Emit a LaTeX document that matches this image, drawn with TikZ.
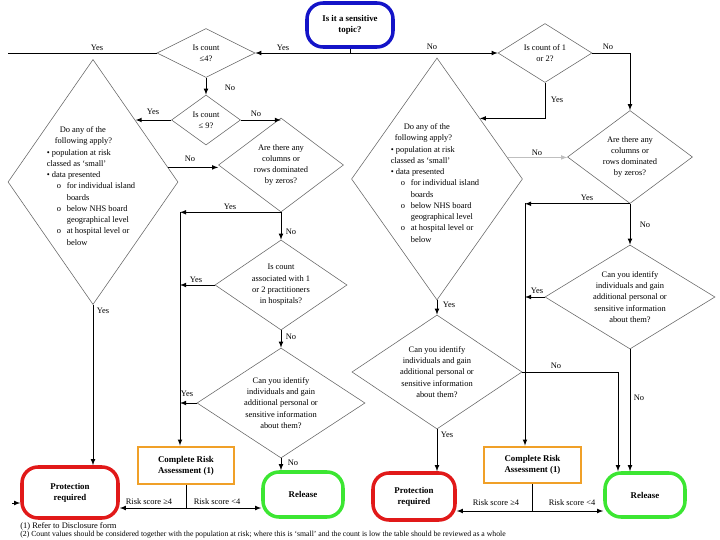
\documentclass[tikz,border=0pt]{standalone}
\usepackage{fontspec}
\setmainfont{Liberation Serif}
\usepackage{tikz}
\usetikzlibrary{shapes.geometric}

\definecolor{topicblue}{RGB}{20,20,200}
\definecolor{protred}{RGB}{225,25,25}
\definecolor{craorange}{RGB}{240,160,40}
\definecolor{relgreen}{RGB}{60,230,50}

\newcommand{\geobul}{\textbullet\ }
\newcommand{\geosub}[1]{\hspace*{2.5mm}\makebox[2.5mm][l]{o}#1}
\newcommand{\geoind}{\hspace*{5mm}}

\begin{document}
\begin{tikzpicture}[x=0.25mm, y=-0.25mm, >=latex, line width=0.5pt,
    every node/.style={font=\fontsize{6}{8}\selectfont},
    quest/.style={draw=black!60, shape=diamond, inner sep=0pt, line width=0.4pt},
    qtext/.style={align=center, inner sep=0pt},
    endbox/.style={draw, rounded corners=4mm, line width=2.5pt, align=center,
        font=\fontsize{6.3}{8}\selectfont\bfseries},
    crabox/.style={draw=craorange, line width=2pt, minimum width=24mm,
        minimum height=9.25mm, align=center, font=\fontsize{6.3}{8}\selectfont\bfseries},
    lab/.style={inner sep=1pt}]
    \useasboundingbox (0,0) rectangle (720,540);

    \node[endbox, draw=topicblue, minimum width=21.5mm, minimum height=11mm] (topic) at (350,25) {Is it a sensitive\\topic?};

    % sensitive topic side
    \node[quest, minimum width=24.5mm, minimum height=12.25mm] (cnt4) at (206,53) {};
    \node[qtext] at (cnt4) {Is count\\≤4?};
    \node[quest, minimum width=17.25mm, minimum height=12.5mm] (cnt9) at (206,120) {};
    \node[qtext] at (cnt9) {Is count\\≤ 9?};
    \node[quest, minimum width=42.5mm, minimum height=61.25mm] (geoL) at (93,182) {};
    \node[qtext, align=left] at ([xshift=-0.5mm, yshift=-1mm]geoL) {\hspace*{3.25mm}Do any of the\\ \hspace*{2mm}following apply?\\
        \geobul population at risk\\ classed as `small'\\ \geobul data presented\\
        \geosub{for individual island}\\ \geoind boards\\ \geosub{below NHS board}\\ \geoind geographical level\\
        \geosub{at hospital level or}\\ \geoind below};
    \node[quest, minimum width=31.25mm, minimum height=23.5mm] (zeroL) at (281,165) {};
    \node[qtext] at (zeroL) {Are there any\\columns or\\rows dominated\\by zeros?};
    \node[quest, minimum width=33mm, minimum height=22.5mm] (pracL) at (281,285) {};
    \node[qtext] at (pracL) {Is count\\associated with 1\\or 2 practitioners\\in hospitals?};
    \node[quest, minimum width=42mm, minimum height=27.5mm] (identL) at (281,403) {};
    \node[qtext] at (identL) {Can you identify\\individuals and gain\\additional personal or\\sensitive information\\about them?};

    \node[crabox] (craL) at (186,465.5) {Complete Risk\\Assessment (1)};
    \node[endbox, draw=protred, minimum width=24mm, minimum height=12.75mm] (protL) at (70,492.5) {Protection\\required};
    \node[endbox, draw=relgreen, minimum width=20mm, minimum height=11.25mm] (relL) at (303,494.5) {Release};

    \coordinate (busL) at (180,212);
    \coordinate (riskL) at (186,508);
    \coordinate (stubL) at (12,503);
    \coordinate (edgeL) at (8,53);

    \draw[->] (topic.south) |- (cnt4.east);
    \node[lab] at (283,48) {Yes};
    \draw (cnt4.west) -- (edgeL);
    \node[lab] at (97,48) {Yes};
    \draw[->] (stubL) -- (stubL -| protL.west);
    \draw[->] (cnt4.south) -- (cnt9.north);
    \node[lab] at (230,88) {No};
    \draw[->] (cnt9.west) -- (cnt9.west -| geoL.north east);
    \node[lab] at (153,112) {Yes};
    \draw[->] (cnt9.east) -- (cnt9.east -| zeroL.north);
    \node[lab] at (256,114) {No};
    \draw[->] (geoL.11) -- (geoL.11 -| zeroL.west);
    \node[lab] at (190,159) {No};
    \draw[->] (geoL.south) -- (geoL.south |- protL.north);
    \node[lab] at (103,311) {Yes};

    \draw[->] (zeroL.south) -- (zeroL.south -| busL);
    \node[lab] at (230,207) {Yes};
    \draw[->] (busL) -- (busL |- craL.north);
    \draw[->] (zeroL.south) -- (pracL.north);
    \node[lab] at (291,232) {No};
    \draw[->] (pracL.west) -- (pracL.west -| busL);
    \node[lab] at (196,280) {Yes};
    \draw[->] (pracL.south) -- (identL.north);
    \node[lab] at (291,337) {No};
    \draw[->] (identL.west) -- (identL.west -| busL);
    \node[lab] at (187,394) {Yes};
    \draw[->] (identL.south) -- (identL.south |- relL.north);
    \node[lab] at (293,463) {No};

    \draw (craL.south) -- (riskL);
    \draw[<->] (riskL -| protL.east) -- (riskL -| relL.west);
    \node[lab] at (149,502) {Risk score ≥4};
    \node[lab] at (217,502) {Risk score <4};

    % not sensitive side
    \node[quest, minimum width=23.5mm, minimum height=14.75mm] (cnt12) at (545,53) {};
    \node[qtext] at (cnt12) {Is count of 1\\or 2?};
    \node[quest, minimum width=42.75mm, minimum height=60.5mm] (geoM) at (437,179) {};
    \node[qtext, align=left] at ([xshift=-0.5mm, yshift=-1mm]geoM) {\hspace*{3.25mm}Do any of the\\ \hspace*{1mm}following apply?\\
        \geobul population at risk\\ classed as `small'\\ \geobul data presented\\
        \geosub{for individual island}\\ \geoind boards\\ \geosub{below NHS board}\\ \geoind geographical level\\
        \geosub{at hospital level or}\\ \geoind below};
    \node[quest, minimum width=31.25mm, minimum height=23.25mm] (zeroR) at (630,157) {};
    \node[qtext] at (zeroR) {Are there any\\columns or\\rows dominated\\by zeros?};
    \node[quest, minimum width=42.5mm, minimum height=26mm] (identR) at (630,297) {};
    \node[qtext] at (identR) {Can you identify\\individuals and gain\\additional personal or\\sensitive information\\about them?};
    \node[quest, minimum width=42.5mm, minimum height=28.5mm] (identM) at (437,372) {};
    \node[qtext] at (identM) {Can you identify\\individuals and gain\\additional personal or\\sensitive information\\about them?};

    \node[crabox, minimum width=24.25mm, minimum height=9mm] (craM) at (532.5,465) {Complete Risk\\Assessment (1)};
    \node[endbox, draw=protred, minimum width=20.5mm, minimum height=11.75mm] (protM) at (414,496.5) {Protection\\required};
    \node[endbox, draw=relgreen, minimum width=20mm, minimum height=11mm] (relR) at (645,495) {Release};

    \coordinate (busR) at (525,203);
    \coordinate (noM) at (618,372);
    \coordinate (riskM) at (532.5,511);

    \draw[->] (topic.south) |- (cnt12.west);
    \node[lab] at (432,47) {No};
    \draw[->] (cnt12.east) -| (zeroR.north);
    \node[lab] at (608,47) {No};
    \draw[->] (cnt12.south) |- (geoM.north east);
    \node[lab] at (557,100) {Yes};
    \draw[->, black!25] (geoM.17) -- (geoM.17 -| zeroR.west);
    \node[lab] at (537,153) {No};
    \draw[->] (zeroR.south) -- (zeroR.south -| busR);
    \node[lab] at (587,198) {Yes};
    \draw[->] (busR) -- (busR |- craM.north);
    \draw[->] (zeroR.south) -- (identR.north);
    \node[lab] at (645,225) {No};
    \draw[->] (identR.west) -- (identR.west -| busR);
    \node[lab] at (537,291) {Yes};
    \draw[->] (identR.south) -- (identR.south |- relR.north);
    \node[lab] at (639,398) {No};

    \draw[->] (geoM.south) -- (identM.north);
    \node[lab] at (449,305) {Yes};
    \draw[->] (identM.south) -- (identM.south |- protM.north);
    \node[lab] at (447,435) {Yes};
    \draw[->] (identM.east) -- (noM) -- (noM |- relR.north);
    \node[lab] at (556,366) {No};

    \draw (craM.south) -- (riskM);
    \draw[<->] (riskM -| protM.east) -- (riskM -| relR.west);
    \node[lab] at (496,503) {Risk score ≥4};
    \node[lab] at (572,503) {Risk score <4};

    \node[anchor=west, inner sep=0pt] (note1) at (20,526) {(1) Refer to Disclosure form};
    \node[anchor=west, inner sep=0pt, font=\fontsize{5.5}{7}\selectfont] (note2) at (20,534.5) {(2) Count values should be considered together with the population at risk; where this is `small' and the count is low the table should be reviewed as a whole};
\end{tikzpicture}
\end{document}
